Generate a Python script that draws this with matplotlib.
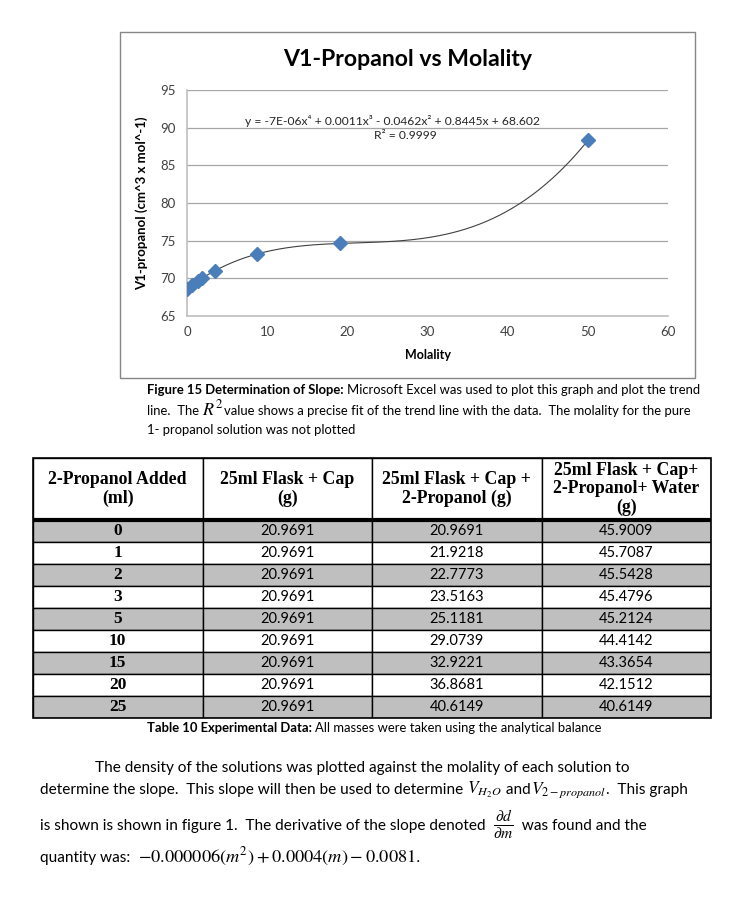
import numpy as np
import matplotlib
matplotlib.use('Agg')
import matplotlib.pyplot as plt
from matplotlib.patches import Rectangle

W, H = 729, 908

# chart data (molality of 2-propanol, partial molar volume)
molality = [0.0, 0.67, 1.32, 1.93, 3.44, 8.79, 19.05, 50.08]
v_propanol = [68.60, 69.15, 69.64, 70.07, 70.95, 73.25, 74.63, 88.40]
x_ticks = [0, 10, 20, 30, 40, 50, 60]
y_ticks = [65, 70, 75, 80, 85, 90, 95]
fit_label = "y = -7E-06x\u2074 + 0.0011x\u00b3 - 0.0462x\u00b2 + 0.8445x + 68.602"
r2_label = "R\u00b2 = 0.9999"

# table data
headers = ["2-Propanol Added\n(ml)", "25ml Flask + Cap\n(g)",
           "25ml Flask + Cap +\n2-Propanol (g)",
           "25ml Flask + Cap+\n2-Propanol+ Water\n(g)"]
added_ml = ["0", "1", "2", "3", "5", "10", "15", "20", "25"]
flask_cap = ["20.9691", "20.9691", "20.9691", "20.9691", "20.9691",
             "20.9691", "20.9691", "20.9691", "20.9691"]
flask_prop = ["20.9691", "21.9218", "22.7773", "23.5163", "25.1181",
              "29.0739", "32.9221", "36.8681", "40.6149"]
flask_water = ["45.9009", "45.7087", "45.5428", "45.4796", "45.2124",
               "44.4142", "43.3654", "42.1512", "40.6149"]

plt.rcParams['font.family'] = ['Lato', 'DejaVu Sans']
plt.rcParams['mathtext.fontset'] = 'stix'

fig = plt.figure(figsize=(W / 100, H / 100), dpi=100)
renderer = fig.canvas.get_renderer()


def fx(x):
    return x / W


def fy(y):
    return 1 - y / H


def text_run(x, y, parts):
    """Draw text pieces one after another on a shared baseline (pixels)."""
    for s, kw in parts:
        t = fig.text(fx(x), fy(y), s, va='baseline', ha='left', **kw)
        x = t.get_window_extent(renderer).x1


# ---- chart frame ----
fig.patches.append(Rectangle((fx(120), fy(378)), fx(695) - fx(120), fy(32) - fy(378),
                             transform=fig.transFigure, fill=False,
                             edgecolor='#868686', lw=1.0))

ax = fig.add_axes([fx(187), fy(316), fx(668) - fx(187), fy(90) - fy(316)])
ax.set_xlim(0, 60)
ax.set_ylim(65, 95)
ax.set_xticks(x_ticks)
ax.set_yticks(y_ticks)
ax.grid(axis='y', color='#a6a6a6', lw=0.9)
ax.set_axisbelow(True)
for s in ['top', 'right']:
    ax.spines[s].set_visible(False)
for s in ['left', 'bottom']:
    ax.spines[s].set_color('#bfbfbf')
    ax.spines[s].set_linewidth(1.2)
ax.tick_params(length=0, labelsize=9.5, colors='#404040')
ax.tick_params(axis='x', pad=7)
ax.tick_params(axis='y', pad=8)

coef = np.polyfit(molality, v_propanol, 4)
xs = np.linspace(min(molality), max(molality), 300)
ax.plot(xs, np.polyval(coef, xs), color='#404040', lw=0.8, zorder=2)
ax.plot(molality, v_propanol, 'D', color='#4a7ebb', ms=7.5, zorder=3)

ax.text(25.6, 90.9, fit_label, ha='center', va='center', fontsize=8.7, color='#262626')
ax.text(27.2, 88.9, r2_label, ha='center', va='center', fontsize=8.7, color='#262626')
ax.set_xlabel("Molality", fontsize=9, fontweight='bold', labelpad=8)
ax.set_ylabel("V1-propanol (cm^3 x mol^-1)", fontsize=9.5, fontweight='bold', labelpad=9)
fig.text(fx(408), fy(60), "V1-Propanol vs Molality", ha='center', va='center',
         fontsize=16.6, fontweight='bold')

# ---- figure caption ----
cap = 9.35
text_run(147, 394, [("Figure 15 Determination of Slope: ", dict(fontsize=cap, fontweight='bold')),
                    ("Microsoft Excel was used to plot this graph and plot the trend",
                     dict(fontsize=cap))])
text_run(147, 415, [("line.  The ", dict(fontsize=cap)),
                    ("$R^2$", dict(fontsize=13)),
                    ("value shows a precise fit of the trend line with the data.  "
                     "The molality for the pure", dict(fontsize=cap))])
text_run(147, 434, [("1- propanol solution was not plotted", dict(fontsize=cap))])

# ---- table ----
n_rows = len(added_ml)
head_h = 62 / 22.0
tab = fig.add_axes([fx(33), fy(718), fx(711) - fx(33), fy(458) - fy(718)])
tab.set_xlim(0, 4)
tab.set_ylim(head_h + n_rows, 0)
tab.axis('off')

columns = [added_ml, flask_cap, flask_prop, flask_water]
for i in range(n_rows):
    y0 = head_h + i
    shade = '#bfbfbf' if i % 2 == 0 else 'white'
    for j, col in enumerate(columns):
        tab.add_patch(Rectangle((j, y0), 1, 1, facecolor=shade, edgecolor='black', lw=1.0))
        if j == 0:
            tab.text(j + 0.5, y0 + 0.52, col[i], ha='center', va='center',
                     fontsize=12.5, fontweight='bold', family='Liberation Serif')
        else:
            tab.text(j + 0.5, y0 + 0.52, col[i], ha='center', va='center', fontsize=10.5)
for j, h in enumerate(headers):
    tab.add_patch(Rectangle((j, 0), 1, head_h, facecolor='white', edgecolor='black', lw=1.0))
    tab.text(j + 0.5, head_h / 2, h, ha='center', va='center', fontsize=12.8,
             fontweight='bold', family='Liberation Serif', linespacing=1.12)
tab.plot([0, 4], [head_h, head_h], color='black', lw=3, solid_capstyle='butt', clip_on=False)
tab.add_patch(Rectangle((0, 0), 4, head_h + n_rows, fill=False, edgecolor='black', lw=1.2,
                        clip_on=False))

text_run(147, 732, [("Table 10 Experimental Data: ", dict(fontsize=cap, fontweight='bold')),
                    ("All masses were taken using the analytical balance", dict(fontsize=cap))])

# ---- paragraph ----
p = 11.1
text_run(95, 772, [("The density of the solutions was plotted against the molality of each solution to",
                    dict(fontsize=p))])
text_run(40, 794, [("determine the slope.  This slope will then be used to determine ", dict(fontsize=p)),
                   (r"$V_{H_2O}$", dict(fontsize=12.5)),
                   (" and", dict(fontsize=p)),
                   (r"$V_{2-propanol}$", dict(fontsize=12.5)),
                   (".  This graph", dict(fontsize=p))])
text_run(40, 830, [("is shown is shown in figure 1.  The derivative of the slope denoted  ", dict(fontsize=p)),
                   (r"$\frac{\partial d}{\partial m}$", dict(fontsize=16)),
                   ("  was found and the", dict(fontsize=p))])
text_run(40, 862, [("quantity was:  ", dict(fontsize=p)),
                   (r"$-0.000006\left(m^2\right)+0.0004\left(m\right)-0.0081.$", dict(fontsize=13.2))])

fig.savefig("out.png", dpi=100)
